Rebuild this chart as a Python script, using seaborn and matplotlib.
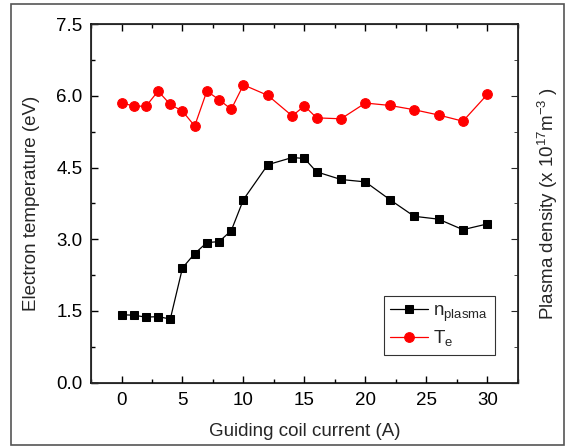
import matplotlib
matplotlib.use("Agg")
import matplotlib.pyplot as plt
import seaborn as sns
import pandas as pd
from matplotlib.patches import Rectangle
from matplotlib.ticker import MultipleLocator

current = [0, 1, 2, 3, 4, 5, 6, 7, 8, 9, 10, 12, 14, 15, 16, 18, 20, 22, 24, 26, 28, 30]
te = [5.85, 5.79, 5.78, 6.10, 5.82, 5.68, 5.37, 6.10, 5.92, 5.72, 6.23, 6.01,
      5.58, 5.79, 5.54, 5.52, 5.85, 5.80, 5.71, 5.60, 5.47, 6.03]
n_plasma = [1.42, 1.41, 1.37, 1.38, 1.33, 2.40, 2.70, 2.93, 2.95, 3.18, 3.83, 4.56,
            4.71, 4.69, 4.41, 4.25, 4.20, 3.83, 3.48, 3.42, 3.20, 3.32]
y_ticks = [0.0, 1.5, 3.0, 4.5, 6.0, 7.5]
x_ticks = [0, 5, 10, 15, 20, 25, 30]

sns.set_style("ticks")
plt.rcParams['font.family'] = ['Liberation Sans', 'DejaVu Sans']
plt.rcParams['mathtext.fontset'] = 'custom'
plt.rcParams['mathtext.rm'] = 'Liberation Sans'
plt.rcParams['mathtext.it'] = 'Liberation Sans'

df = pd.DataFrame({"current": current, "te": te, "n": n_plasma})

fig = plt.figure(figsize=(5.69, 4.48), dpi=100)
ax = fig.add_axes([0.160, 0.146, 0.750, 0.800])

sns.lineplot(data=df, x="current", y="n", ax=ax, color="black", marker="s",
             markersize=6, markeredgecolor="black", linewidth=0.9,
             label=r"n$_{\mathregular{plasma}}$")
sns.lineplot(data=df, x="current", y="te", ax=ax, color="#ff0000", marker="o",
             markersize=7, markeredgecolor="#ff0000", linewidth=0.9,
             label=r"T$_{\mathregular{e}}$")

ax.set_xlim(-2.5, 32.5)
ax.set_ylim(0, 7.5)
ax.set_xticks(x_ticks)
ax.set_yticks(y_ticks)
ax.set_yticklabels([f"{v:.1f}" for v in y_ticks])
ax.xaxis.set_minor_locator(MultipleLocator(2.5))
ax.yaxis.set_minor_locator(MultipleLocator(0.75))
ax.tick_params(which="both", direction="in", top=True, right=False, labelsize=13.5,
               width=1.0, colors="black")
ax.tick_params(which="major", length=5)
ax.tick_params(which="minor", length=3)
ax.tick_params(axis="x", pad=7)
ax.tick_params(axis="y", pad=6)
ax.set_xlabel("Guiding coil current (A)", fontsize=13.5, labelpad=10)
ax.set_ylabel("Electron temperature (eV)", fontsize=13.5, labelpad=12)
for s in ax.spines.values():
    s.set_linewidth(1.1)
    s.set_color("black")

ax2 = ax.twinx()
ax2.set_ylim(0, 7.5)
ax2.set_yticks(y_ticks)
ax2.yaxis.set_minor_locator(MultipleLocator(0.75))
ax2.tick_params(which="both", direction="in", labelright=False)
ax2.tick_params(which="major", length=5)
ax2.tick_params(which="minor", length=3)
ax2.set_ylabel(r"Plasma density (x 10$^{\mathregular{17}}$m$^{\mathregular{-3}}$ )",
               fontsize=13.5, labelpad=13)

leg = ax.legend(loc="upper left", bbox_to_anchor=(0.664, 0.268), frameon=True,
                fancybox=False, edgecolor="black", fontsize=13.5, handlelength=2.0,
                borderpad=0.35, labelspacing=0.25, handletextpad=0.3)
leg.get_frame().set_linewidth(0.8)

fig.patches.append(Rectangle((11/569, 3/448), 553/569, 441/448, transform=fig.transFigure,
                             fill=False, edgecolor="#555555", linewidth=1.2))

fig.savefig("out.png", dpi=100)
